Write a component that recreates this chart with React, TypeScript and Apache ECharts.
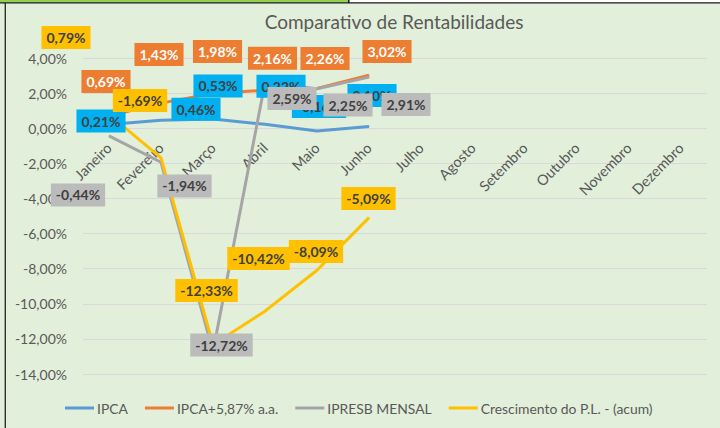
import React, { useEffect, useRef } from "react";
import * as echarts from "echarts";

const months = [
  "Janeiro", "Fevereiro", "Março", "Abril", "Maio", "Junho",
  "Julho", "Agosto", "Setembro", "Outubro", "Novembro", "Dezembro",
];
const ipca = [0.21, 0.46, 0.53, 0.22, -0.16, 0.1];
const ipcaMeta = [0.69, 1.43, 1.98, 2.16, 2.26, 3.02];
const ipresbMensal = [-0.44, -1.94, -12.72, 2.59, 2.25, 2.91];
const crescimentoPL = [0.79, -1.69, -12.33, -10.42, -8.09, -5.09];
const seriesNames = ["IPCA", "IPCA+5,87% a.a.", "IPRESB MENSAL", "Crescimento do P.L. - (acum)"];
const yMin = -14;
const yMax = 4;
const yStep = 2;

// label placement (styling only)
const offIpca = [[-8, -3.5], [35, -11], [5, -33], [16, -38], [2, -24.5], [3, -31]];
const offMeta = [[-3, -34.6], [-2, -48.6], [4.5, -42], [7.5, -32], [8, -30], [18, -23.7]];
const offIpresb = [[-31, 59], [23.5, 23.7], [8.5, -6.5], [27, 15.8], [31, 16.3], [37, 27.4]];
const offCresc = [[-43, -76.8], [-21, -57.4], [-6.5, -54.2], [-6.5, -52.6], [-1, -18.7], [-0.5, -19.1]];

const FONT = "Lato";
const fmt = (v: number) => v.toFixed(2).replace(".", ",") + "%";

const GRID_TOP = 58;
const GRID_BOTTOM = 54;
const CHART_H = 428;

function makeSeries(
  name: string,
  values: number[],
  offsets: number[][],
  lineColor: string,
  bg: string,
  textColor: string
) {
  return {
    name,
    type: "line",
    symbol: "circle",
    symbolSize: 1,
    itemStyle: { color: lineColor },
    lineStyle: { color: lineColor, width: 3 },
    data: values.map((v, i) => ({
      value: v,
      label: { offset: offsets[i] },
    })),
    label: {
      show: true,
      position: "inside",
      formatter: (p: any) => fmt(p.value),
      backgroundColor: bg,
      color: textColor,
      fontFamily: FONT,
      fontWeight: "bold",
      fontSize: 14,
      padding: [5, 5, 4, 5],
    },
  };
}

export default function App() {
  const ref = useRef<HTMLDivElement>(null);
  useEffect(() => {
    if (!ref.current) return;
    const chart = echarts.init(ref.current, null, { renderer: "svg" });
    const plotH = CHART_H - GRID_TOP - GRID_BOTTOM;
    const zeroOffset = -((0 - yMin) / (yMax - yMin)) * plotH;
    chart.setOption({
      animation: false,
      backgroundColor: "#E2EFDA",
      title: {
        text: "Comparativo de Rentabilidades",
        left: 389,
        top: 7,
        textAlign: "center",
        textStyle: { fontFamily: FONT, fontSize: 19, fontWeight: "normal", color: "#595959" },
      },
      graphic: [
        { type: "rect", shape: { x: 0, y: 0, width: 348, height: 2.5 }, style: { fill: "#92D050" }, silent: true },
        { type: "rect", shape: { x: 350, y: 0, width: 370, height: 2.5 }, style: { fill: "#FFFFFF" }, silent: true },
        { type: "rect", shape: { x: 348, y: 0, width: 1.5, height: 3 }, style: { fill: "#1A1A1A" }, silent: true },
        { type: "rect", shape: { x: 0, y: 2.3, width: 720, height: 1.3 }, style: { fill: "#1A1A1A" }, silent: true },
        { type: "rect", shape: { x: 4.6, y: 2.3, width: 1.4, height: 430 }, style: { fill: "#333333" }, silent: true },
      ],
      legend: {
        left: 60,
        top: 396,
        icon: "rect",
        itemWidth: 29,
        itemHeight: 3,
        itemGap: 17,
        textStyle: { fontFamily: FONT, fontSize: 13.9, color: "#595959", padding: [0, 0, 0, -2] },
        data: seriesNames,
      },
      grid: { left: 83, right: 13, top: GRID_TOP, bottom: GRID_BOTTOM, containLabel: false },
      xAxis: {
        type: "category",
        data: months,
        boundaryGap: true,
        position: "bottom",
        offset: zeroOffset,
        axisLine: { show: false, onZero: false },
        axisTick: { show: false },
        axisLabel: {
          rotate: 45,
          margin: 17,
          interval: 0,
          fontFamily: FONT,
          fontSize: 14.5,
          color: "#595959",
        },
        splitLine: { show: false },
      },
      yAxis: {
        type: "value",
        min: yMin,
        max: yMax,
        interval: yStep,
        axisLine: { show: false },
        axisTick: { show: false },
        axisLabel: {
          margin: 16,
          fontFamily: FONT,
          fontSize: 14,
          color: "#595959",
          formatter: (v: number) => fmt(v),
        },
        splitLine: { lineStyle: { color: "#D9D9D9", width: 1 } },
      },
      series: [
        makeSeries(seriesNames[0], ipca, offIpca, "#5B9BD5", "#00B0F0", "#404040"),
        makeSeries(seriesNames[1], ipcaMeta, offMeta, "#ED7D31", "#ED7D31", "#FFFFFF"),
        makeSeries(seriesNames[2], ipresbMensal, offIpresb, "#A5A5A5", "#BBBBBB", "#404040"),
        makeSeries(seriesNames[3], crescimentoPL, offCresc, "#FFC000", "#FFC000", "#404040"),
      ],
    });
    return () => chart.dispose();
  }, []);
  return (
    <div
      ref={ref}
      style={{ position: "fixed", left: 0, top: 0, width: 720, height: 428 }}
    />
  );
}
